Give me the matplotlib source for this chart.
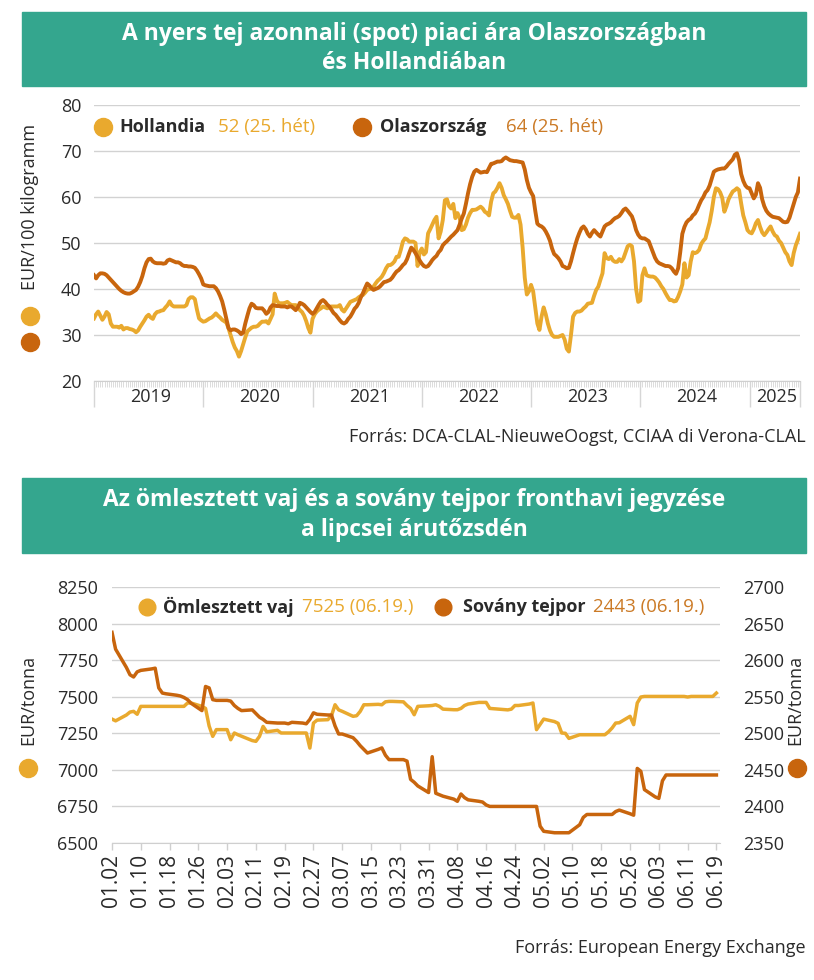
import numpy as np
import pandas as pd
import matplotlib
matplotlib.use('Agg')
import matplotlib.pyplot as plt
from matplotlib.patches import Rectangle
from matplotlib.transforms import blended_transform_factory

# --- top chart: weekly raw milk spot price, EUR/100 kg ---
years = [2019, 2020, 2021, 2022, 2023, 2024, 2025]

nl_2019 = [33.6, 34.5, 35.1, 34.2, 33.3, 34.0, 35.0, 34.5, 32.5, 31.8, 31.8, 31.8, 31.6,
           32.0, 31.2, 31.5, 31.5, 31.3, 31.2, 31.0, 30.6, 31.0, 31.8, 32.5, 33.2, 34.0,
           34.4, 33.8, 33.5, 34.5, 35.0, 35.1, 35.3, 35.4, 36.0, 36.5, 37.3, 36.5, 36.2,
           36.2, 36.2, 36.2, 36.2, 36.2, 36.5, 37.8, 38.2, 38.2, 37.8, 35.5, 33.6, 33.2]
nl_2020 = [32.9, 33.0, 33.3, 33.6, 33.8, 34.2, 34.7, 34.2, 33.8, 33.3, 33.0, 32.7, 31.5,
           30.0, 28.5, 27.3, 26.5, 25.3, 26.5, 28.0, 29.5, 30.8, 31.2, 31.6, 31.8, 31.8,
           32.0, 32.5, 32.9, 32.9, 33.0, 32.5, 33.5, 34.5, 39.0, 37.5, 36.9, 36.9, 36.9,
           37.0, 37.2, 36.8, 36.5, 36.5, 36.5, 36.0, 35.4, 35.0, 34.2, 33.0, 31.5, 30.5]
nl_2021 = [33.5, 34.5, 35.1, 35.5, 35.8, 36.2, 36.0, 35.8, 36.0, 36.2, 36.2, 36.2, 36.2,
           36.5, 35.5, 35.1, 35.8, 36.5, 37.2, 37.4, 37.6, 37.8, 38.2, 38.5, 38.7, 39.2,
           39.8, 40.0, 40.1, 40.5, 41.2, 41.8, 42.2, 42.7, 43.5, 44.5, 45.2, 45.2, 45.5,
           46.0, 47.0, 47.0, 48.5, 50.3, 51.0, 50.8, 50.3, 50.3, 50.3, 50.0, 45.0, 48.0]
nl_2022 = [48.8, 47.5, 48.0, 52.1, 53.0, 54.0, 55.0, 55.7, 51.0, 52.5, 55.0, 59.3, 59.5,
           58.0, 57.5, 58.5, 55.4, 56.5, 55.5, 52.8, 53.0, 54.0, 55.5, 56.5, 57.2, 57.2,
           57.3, 57.6, 57.9, 57.5, 56.8, 56.5, 56.0, 59.0, 60.8, 61.2, 62.0, 63.0, 62.0,
           60.4, 59.5, 58.5, 57.0, 55.7, 55.5, 55.5, 56.1, 54.0, 49.0, 42.5, 38.8, 39.5]
nl_2023 = [40.9, 39.5, 36.0, 32.5, 31.1, 34.0, 36.0, 34.5, 32.5, 31.0, 30.0, 29.6, 29.6,
           29.6, 29.8, 30.0, 29.0, 27.0, 26.4, 30.0, 34.0, 34.8, 35.1, 35.1, 35.3, 35.8,
           36.2, 36.8, 36.9, 37.0, 38.5, 39.8, 40.5, 42.0, 43.4, 47.8, 46.7, 46.5, 47.0,
           46.2, 45.9, 45.9, 46.5, 46.0, 46.7, 48.0, 49.3, 49.6, 49.3, 46.0, 40.0, 37.2]
nl_2024 = [37.5, 43.0, 44.5, 43.0, 42.8, 42.7, 42.7, 42.5, 42.0, 41.4, 40.6, 40.0, 39.1,
           38.3, 37.6, 37.6, 37.3, 37.4, 38.3, 39.5, 41.0, 45.6, 42.5, 43.0, 46.0, 48.0,
           47.8, 48.0, 48.5, 49.8, 50.5, 51.0, 52.8, 54.5, 57.0, 60.0, 61.9, 61.7, 61.0,
           59.8, 56.8, 58.0, 59.5, 60.4, 61.2, 61.5, 61.9, 61.5, 58.6, 56.0, 54.5, 52.8]
nl_2025 = [52.3, 52.1, 53.0, 54.3, 55.0, 53.5, 52.3, 51.7, 52.3, 53.0, 53.6, 52.5, 51.7,
           51.4, 50.5, 50.0, 49.0, 48.0, 47.4, 46.0, 45.2, 47.8, 49.5, 50.7, 52.0]

it_2019 = [43.0, 42.3, 43.0, 43.4, 43.4, 43.3, 43.0, 42.5, 42.0, 41.5, 41.0, 40.5, 40.0,
           39.6, 39.3, 39.1, 39.0, 39.0, 39.2, 39.5, 39.8, 40.5, 41.5, 42.8, 44.5, 45.8,
           46.5, 46.6, 46.0, 45.7, 45.6, 45.6, 45.6, 45.5, 45.6, 46.2, 46.4, 46.2, 46.0,
           45.8, 45.8, 45.6, 45.2, 45.0, 45.0, 44.9, 44.9, 44.8, 44.6, 44.0, 43.2, 42.3]
it_2020 = [41.0, 40.8, 40.7, 40.6, 40.6, 40.6, 40.2, 39.5, 38.5, 37.3, 35.5, 33.5, 31.5,
           31.0, 31.2, 31.2, 31.0, 30.7, 30.2, 30.5, 32.5, 34.2, 35.8, 36.8, 36.5, 35.9,
           35.8, 35.8, 35.8, 35.3, 34.6, 35.0, 36.0, 36.5, 36.4, 36.3, 36.3, 36.2, 36.2,
           36.2, 36.0, 36.2, 36.2, 35.8, 35.4, 36.0, 37.0, 36.8, 36.5, 36.0, 35.5, 35.0]
it_2021 = [34.6, 35.0, 35.8, 36.6, 37.3, 37.6, 37.2, 36.6, 36.2, 35.5, 34.8, 34.4, 33.8,
           33.2, 32.7, 32.5, 32.8, 33.5, 34.0, 34.8, 35.7, 36.2, 37.0, 38.2, 39.1, 40.2,
           41.2, 40.8, 40.2, 39.8, 40.0, 40.2, 40.5, 41.0, 41.5, 41.6, 41.8, 42.0, 42.5,
           43.2, 43.8, 44.1, 44.6, 45.2, 45.6, 46.5, 47.8, 49.0, 48.5, 47.8, 47.0, 46.2]
it_2022 = [45.5, 45.0, 44.8, 45.0, 45.6, 46.3, 46.8, 47.2, 48.0, 48.5, 49.5, 50.0, 50.4,
           50.9, 51.4, 51.8, 52.3, 52.8, 54.0, 55.3, 56.4, 58.5, 60.8, 62.8, 64.4, 65.5,
           65.9, 65.6, 65.3, 65.4, 65.5, 65.4, 66.3, 67.2, 67.3, 67.5, 67.7, 67.7, 67.8,
           68.3, 68.6, 68.3, 68.0, 67.9, 67.8, 67.8, 67.7, 67.6, 67.5, 66.0, 63.7, 62.0]
it_2023 = [61.0, 60.2, 57.0, 54.2, 53.8, 53.6, 53.2, 52.5, 51.6, 50.5, 48.8, 47.6, 47.2,
           46.7, 46.0, 45.0, 44.8, 44.5, 44.6, 46.0, 47.8, 49.5, 51.0, 52.2, 53.2, 53.6,
           53.0, 52.0, 51.4, 52.2, 52.8, 52.3, 51.8, 51.4, 52.5, 53.6, 54.0, 54.2, 54.5,
           55.0, 55.4, 55.6, 55.9, 56.5, 57.2, 57.5, 57.0, 56.4, 55.8, 54.5, 52.8, 51.8]
it_2024 = [51.2, 51.0, 51.0, 50.7, 50.4, 49.2, 48.0, 46.8, 46.0, 45.6, 45.4, 45.2, 45.0,
           45.0, 44.9, 44.5, 43.8, 43.3, 44.5, 48.0, 52.0, 53.5, 54.5, 55.0, 55.3, 56.0,
           56.4, 57.2, 58.3, 59.3, 60.0, 61.0, 61.5, 62.5, 64.0, 65.5, 65.8, 66.0, 66.1,
           66.2, 66.2, 66.6, 67.2, 67.7, 68.2, 69.2, 69.5, 68.0, 65.0, 63.5, 62.5, 62.0]
it_2025 = [61.9, 60.8, 59.7, 60.5, 63.0, 62.0, 59.5, 58.0, 57.0, 56.4, 56.0, 55.7, 55.6,
           55.5, 55.4, 55.0, 54.6, 54.5, 54.6, 55.5, 57.0, 58.5, 60.0, 61.0, 64.0]

# --- bottom chart: EEX front-month quotes 2025 ---
butter_dates = ['01.02', '01.03', '01.06', '01.07', '01.08', '01.09', '01.10', '01.13', '01.14', '01.15',
                '01.16', '01.17', '01.20', '01.21', '01.22', '01.23', '01.24', '01.27', '01.28', '01.29',
                '01.30', '01.31', '02.03', '02.04', '02.05', '02.06', '02.07', '02.10', '02.11', '02.12',
                '02.13', '02.14', '02.17', '02.18', '02.19', '02.20', '02.21', '02.24', '02.25', '02.26',
                '02.27', '02.28', '03.03', '03.04', '03.05', '03.06', '03.07', '03.10', '03.11', '03.12',
                '03.13', '03.14', '03.17', '03.18', '03.19', '03.20', '03.21', '03.24', '03.25', '03.26',
                '03.27', '03.28', '03.31', '04.01', '04.02', '04.03', '04.04', '04.07', '04.08', '04.09',
                '04.10', '04.11', '04.14', '04.15', '04.16', '04.17', '04.22', '04.23', '04.24', '04.25',
                '04.28', '04.29', '04.30', '05.02', '05.05', '05.06', '05.07', '05.08', '05.09', '05.12',
                '05.13', '05.14', '05.15', '05.16', '05.19', '05.20', '05.21', '05.22', '05.23', '05.26',
                '05.27', '05.28', '05.29', '05.30', '06.02', '06.03', '06.04', '06.05', '06.06', '06.09',
                '06.10', '06.11', '06.12', '06.13', '06.16', '06.17', '06.18', '06.19']
butter_vals = [7347, 7335, 7375, 7395, 7400, 7380, 7434, 7434, 7434, 7434,
               7434, 7434, 7434, 7434, 7434, 7457, 7457, 7434, 7420, 7300,
               7229, 7275, 7275, 7206, 7252, 7240, 7230, 7200, 7195, 7229,
               7297, 7260, 7270, 7252, 7252, 7252, 7252, 7252, 7252, 7149,
               7320, 7340, 7343, 7370, 7445, 7410, 7400, 7366, 7370, 7400,
               7445, 7445, 7448, 7445, 7465, 7468, 7468, 7465, 7440, 7420,
               7377, 7434, 7438, 7440, 7445, 7434, 7415, 7411, 7411, 7420,
               7440, 7450, 7461, 7461, 7461, 7420, 7410, 7415, 7440, 7440,
               7450, 7457, 7275, 7347, 7330, 7318, 7252, 7250, 7215, 7240,
               7240, 7240, 7240, 7240, 7240, 7260, 7286, 7320, 7322, 7366,
               7309, 7457, 7498, 7502, 7502, 7502, 7502, 7502, 7502, 7502,
               7502, 7498, 7502, 7502, 7502, 7502, 7502, 7525]

smp_dates = ['01.02', '01.03', '01.06', '01.07', '01.08', '01.09', '01.10', '01.13', '01.14', '01.15',
             '01.16', '01.17', '01.20', '01.21', '01.22', '01.23', '01.24', '01.27', '01.28', '01.29',
             '01.30', '01.31', '02.03', '02.04', '02.05', '02.06', '02.07', '02.10', '02.11', '02.12',
             '02.13', '02.14', '02.17', '02.18', '02.19', '02.20', '02.21', '02.24', '02.25', '02.26',
             '02.27', '02.28', '03.03', '03.04', '03.05', '03.06', '03.07', '03.10', '03.11', '03.12',
             '03.13', '03.14', '03.17', '03.18', '03.19', '03.20', '03.21', '03.24', '03.25', '03.26',
             '03.27', '03.28', '03.31', '04.01', '04.02', '04.03', '04.04', '04.07', '04.08', '04.09',
             '04.10', '04.11', '04.14', '04.15', '04.16', '04.17', '04.22', '04.23', '04.24', '04.25',
             '04.28', '04.29', '04.30', '05.01', '05.02', '05.05', '05.06', '05.07', '05.08', '05.09',
             '05.12', '05.13', '05.14', '05.15', '05.16', '05.19', '05.20', '05.21', '05.22', '05.23',
             '05.26', '05.27', '05.28', '05.29', '05.30', '06.02', '06.03', '06.04', '06.05', '06.06',
             '06.09', '06.10', '06.11', '06.12', '06.13', '06.16', '06.17', '06.18', '06.19']
smp_vals = [2638, 2615, 2590, 2580, 2577, 2584, 2586, 2588, 2589, 2562,
            2555, 2554, 2552, 2551, 2549, 2546, 2541, 2531, 2564, 2562,
            2546, 2545, 2545, 2544, 2538, 2534, 2531, 2532, 2527, 2522,
            2519, 2515, 2514, 2514, 2514, 2513, 2515, 2514, 2513, 2519,
            2528, 2526, 2525, 2525, 2510, 2499, 2499, 2494, 2489, 2483,
            2478, 2473, 2478, 2480, 2470, 2464, 2464, 2464, 2462, 2437,
            2433, 2428, 2419, 2468, 2418, 2416, 2414, 2410, 2407, 2417,
            2412, 2409, 2407, 2406, 2402, 2400, 2400, 2400, 2400, 2400,
            2400, 2400, 2400, 2373, 2366, 2364, 2364, 2364, 2364, 2364,
            2375, 2385, 2389, 2389, 2389, 2389, 2389, 2389, 2393, 2395,
            2390, 2388, 2452, 2448, 2423, 2413, 2411, 2435, 2443, 2443,
            2443, 2443, 2443, 2443, 2443, 2443, 2443, 2443, 2443]

plt.rcParams['font.family'] = ['Open Sans', 'DejaVu Sans']

W, H = 814, 980
YELLOW = '#E9A92E'
DARK = '#C8650D'
DARK_TXT = '#CB7A26'
GREEN = '#34A68E'
TXT = '#2a2a2a'
GRID = '#d2d2d2'
AXIS = '#cfcfcf'


def box(x0, y0, x1, y1):
    # pixel box (top-left origin) -> figure fraction rect
    return [x0 / W, 1 - y1 / H, (x1 - x0) / W, (y1 - y0) / H]


def fx(x):
    return x / W


def fy(y):
    return 1 - y / H


fig = plt.figure(figsize=(W / 100, H / 100), dpi=100)


def banner(y0, y1, line1, line2):
    fig.patches.append(Rectangle((fx(22), fy(y1)), (806 - 22) / W, (y1 - y0) / H,
                                 transform=fig.transFigure, color=GREEN, zorder=0))
    mid = (y0 + y1) / 2
    for txt, yy in [(line1, mid - 15), (line2, mid + 14)]:
        fig.text(fx(414), fy(yy), txt, ha='center', va='center', color='white',
                 fontsize=16.5, fontweight='bold')


def dot(x, y, color, ms=13):
    fig.add_artist(plt.Line2D([fx(x)], [fy(y)], marker='o', ms=ms, color=color,
                              linestyle='none', transform=fig.transFigure))


# ---------------- top chart ----------------
banner(12, 86, 'A nyers tej azonnali (spot) piaci ára Olaszországban', 'és Hollandiában')

nl = np.concatenate([nl_2019, nl_2020, nl_2021, nl_2022, nl_2023, nl_2024, nl_2025])
it = np.concatenate([it_2019, it_2020, it_2021, it_2022, it_2023, it_2024, it_2025])
x = np.arange(len(nl))

ax1 = fig.add_axes(box(94, 105, 800, 381))
ax1.plot(x, nl, color=YELLOW, lw=2.8, solid_joinstyle='round', zorder=3)
ax1.plot(x, it, color=DARK, lw=2.8, solid_joinstyle='round', zorder=4)
ax1.set_xlim(0, len(nl) - 1)
ax1.set_ylim(20, 80)
ax1.set_yticks(range(20, 81, 10))
ax1.yaxis.grid(True, color=GRID, lw=1)
ax1.set_axisbelow(True)
for s in ['top', 'right', 'left']:
    ax1.spines[s].set_visible(False)
ax1.spines['bottom'].set_color(AXIS)
ax1.tick_params(axis='y', length=0, pad=9, labelsize=13, labelcolor=TXT)

year_starts = [52 * i for i in range(len(years))]
ax1.set_xticks(year_starts + [len(nl) - 1])
ax1.set_xticklabels([])
ax1.set_xticks(x, minor=True)
ax1.tick_params(axis='x', which='major', length=19, width=1, color='#d6d6d6')
ax1.tick_params(axis='x', which='minor', length=4, width=0.5, color=AXIS)
trans = blended_transform_factory(ax1.transData, ax1.transAxes)
for i, yr in enumerate(years):
    x0 = year_starts[i]
    x1 = year_starts[i + 1] if i + 1 < len(years) else len(nl) - 1
    ax1.text((x0 + x1) / 2 + 1, -0.058, str(yr), transform=trans, ha='center', va='center',
             fontsize=13, color=TXT)

fig.text(fx(30), fy(207), 'EUR/100 kilogramm', rotation=90, ha='center', va='center',
         fontsize=13, color=TXT)
dot(30, 316, YELLOW)
dot(30, 342, DARK)

# legend
dot(103, 127, YELLOW)
fig.text(fx(119), fy(127), 'Hollandia', ha='left', va='center', fontsize=13,
         fontweight='bold', color=TXT)
fig.text(fx(218), fy(127), '52 (25. hét)', ha='left', va='center', fontsize=13.5, color=YELLOW)
dot(362, 127, DARK)
fig.text(fx(380), fy(127), 'Olaszország', ha='left', va='center', fontsize=13,
         fontweight='bold', color=TXT)
fig.text(fx(506), fy(127), '64 (25. hét)', ha='left', va='center', fontsize=13.5, color=DARK_TXT)

fig.text(fx(806), fy(437), 'Forrás: DCA-CLAL-NieuweOogst, CCIAA di Verona-CLAL',
         ha='right', va='center', fontsize=13, color=TXT)

# ---------------- bottom chart ----------------
banner(478, 553, 'Az ömlesztett vaj és a sovány tejpor fronthavi jegyzése', 'a lipcsei árutőzsdén')

start = pd.Timestamp('2025-01-02')
bx = (pd.to_datetime(['2025.' + d for d in butter_dates], format='%Y.%m.%d') - start).days
sx = (pd.to_datetime(['2025.' + d for d in smp_dates], format='%Y.%m.%d') - start).days

ax2 = fig.add_axes(box(112, 587, 720, 843))
ax2.plot(bx, butter_vals, color=YELLOW, lw=2.5, solid_joinstyle='round', zorder=3)
ax2.set_xlim(0, 169)
ax2.set_ylim(6500, 8250)
ax2.set_yticks(range(6500, 8251, 250))
ax2.yaxis.grid(True, color=GRID, lw=1)
ax2.set_axisbelow(True)
for s in ['top', 'right', 'left']:
    ax2.spines[s].set_visible(False)
ax2.spines['bottom'].set_color(AXIS)
ax2.tick_params(axis='y', length=0, pad=10, labelsize=13, labelcolor=TXT)

tick_days = list(range(0, 169, 8))
ax2.set_xticks(tick_days)
ax2.set_xticklabels([(start + pd.Timedelta(days=d)).strftime('%m.%d') for d in tick_days],
                    rotation=90, fontsize=15, color=TXT)
ax2.tick_params(axis='x', length=5, width=1, color=AXIS, pad=3)

ax3 = ax2.twinx()
ax3.plot(sx, smp_vals, color=DARK, lw=2.5, solid_joinstyle='round', zorder=4)
ax3.set_ylim(2350, 2700)
ax3.set_yticks(range(2350, 2701, 50))
for s in ['top', 'right', 'left', 'bottom']:
    ax3.spines[s].set_visible(False)
ax3.tick_params(axis='y', length=0, pad=17, labelsize=13, labelcolor=TXT)

fig.text(fx(28), fy(700), 'EUR/tonna', rotation=90, ha='center', va='center',
         fontsize=13, color=TXT)
dot(28, 768, YELLOW)
fig.text(fx(795), fy(700), 'EUR/tonna', rotation=90, ha='center', va='center',
         fontsize=13, color=TXT)
dot(797, 768, DARK)

# legend
dot(147, 607, YELLOW, ms=12)
fig.text(fx(163), fy(607), 'Ömlesztett vaj', ha='left', va='center', fontsize=13,
         fontweight='bold', color=TXT)
fig.text(fx(302), fy(607), '7525 (06.19.)', ha='left', va='center', fontsize=13.5, color=YELLOW)
dot(443, 607, DARK, ms=12)
fig.text(fx(463), fy(607), 'Sovány tejpor', ha='left', va='center', fontsize=13,
         fontweight='bold', color=TXT)
fig.text(fx(593), fy(607), '2443 (06.19.)', ha='left', va='center', fontsize=13.5, color=DARK_TXT)

fig.text(fx(806), fy(948), 'Forrás: European Energy Exchange', ha='right', va='center',
         fontsize=13, color=TXT)

fig.savefig('out.png', dpi=100, facecolor='white')
